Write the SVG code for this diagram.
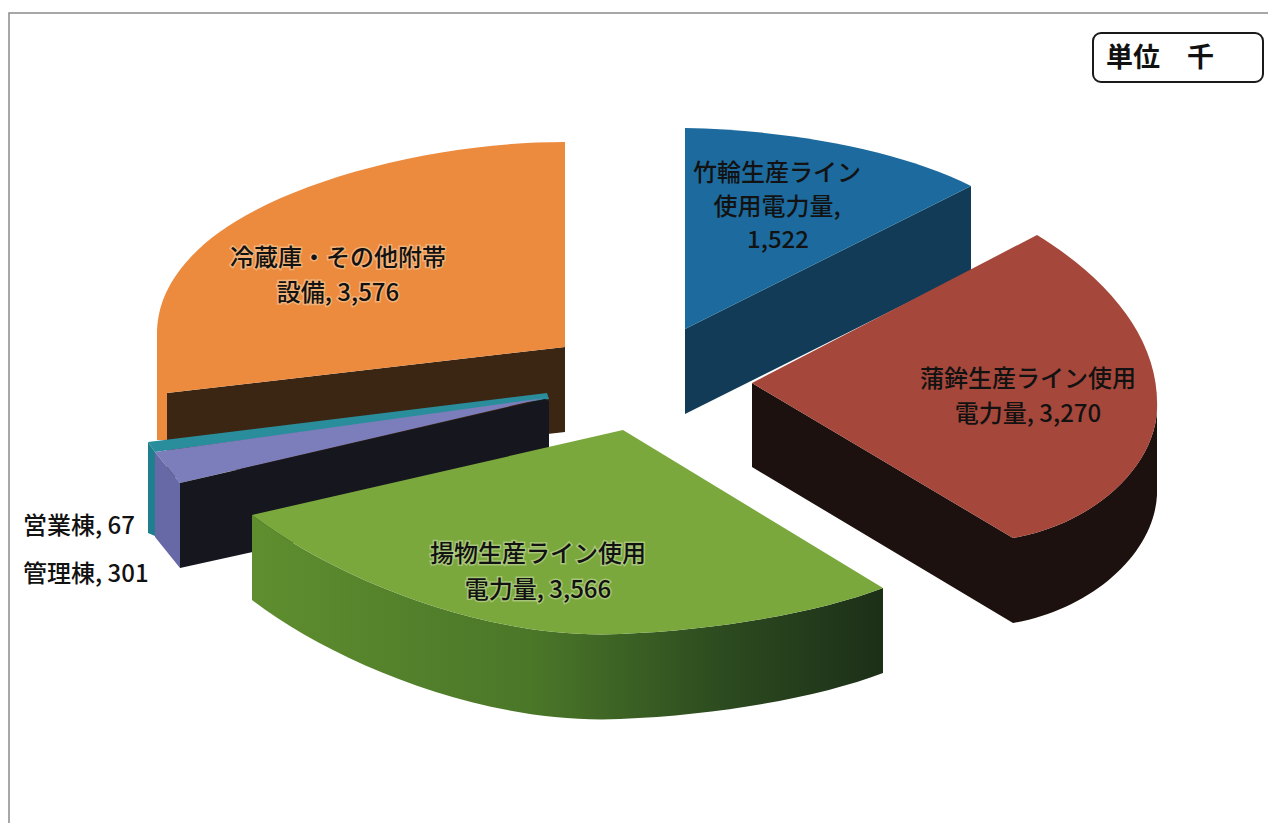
<svg xmlns="http://www.w3.org/2000/svg" width="1268" height="823" viewBox="0 0 1268 823">
<defs>
<style>
.lbl{font-family:"Noto Sans CJK JP","Noto Sans",sans-serif;font-size:24px;font-weight:500;fill:#121212;}
.mid{text-anchor:middle;}
.glow{stroke:rgba(255,255,230,0.35);stroke-width:3px;paint-order:stroke;}
</style>
<linearGradient id="greenSide" x1="252" y1="0" x2="883" y2="0" gradientUnits="userSpaceOnUse">
<stop offset="0" stop-color="#5f8e2f"/>
<stop offset="0.45" stop-color="#4a7628"/>
<stop offset="0.75" stop-color="#2c4a1f"/>
<stop offset="1" stop-color="#1c2f18"/>
</linearGradient>
</defs>
<rect x="0" y="0" width="1268" height="823" fill="#ffffff"/>
<g id="frame" fill="none" stroke="#8a8a8a" stroke-width="1.5">
<path d="M9,823 L9,13 L1268,13"/>
</g>
<g id="unit">
<rect x="1093" y="33" width="170" height="49" rx="8" ry="8" fill="#ffffff" stroke="#1a1a1a" stroke-width="2"/>
<text x="1106" y="67" font-family="'Noto Sans CJK JP','Noto Sans',sans-serif" font-size="27" font-weight="bold" fill="#111">単位　千</text>
</g>
<g id="slice-reizouko">
<path d="M167,393 L565,347 L565,432 L167,478 Z" fill="#3b2513"/>
<path d="M565,142 C420,142 250,190 190,258 C165,285 157,310 157,335 L157,440 L167,440 L167,393 L565,347 Z" fill="#ec8a3e"/>
<text class="lbl mid glow" x="338" y="266">冷蔵庫・その他附帯</text>
<text class="lbl mid glow" x="338" y="301">設備, 3,576</text>
</g>
<g id="slice-eigyou">
<path d="M148,442 L547,393 L549,399 L155,452 Z" fill="#2a8d9c"/>
<path d="M148,442 L155,452 L155,536 L148,533 Z" fill="#1f7f8e"/>
<text class="lbl" x="23" y="534">営業棟, 67</text>
</g>
<g id="slice-kanri">
<path d="M155,452 L545,398 L180,483 Z" fill="#7b7eba"/>
<path d="M155,452 L180,483 L180,568 L155,537 Z" fill="#6769a6"/>
<path d="M180,483 L545,399 L549,401 L549,487 L180,568 Z" fill="#16161f"/>
<text class="lbl" x="23" y="582">管理棟, 301</text>
</g>
<g id="slice-agemono">
<path d="M252,515 C330,575 480,640 620,634 C720,630 820,612 883,588 L883,673 C820,697 720,715 620,719 C480,725 330,660 252,600 Z" fill="url(#greenSide)"/>
<path d="M623,430 L252,515 C330,575 480,640 620,634 C720,630 820,612 883,588 Z" fill="#7aa83d"/>
<text class="lbl mid glow" x="538" y="562">揚物生産ライン使用</text>
<text class="lbl mid glow" x="538" y="598">電力量, 3,566</text>
</g>
<g id="slice-chikuwa">
<path d="M685,329 L971,186 L971,271 L685,414 Z" fill="#123b57"/>
<path d="M685,128 C790,130 900,150 971,186 L685,329 Z" fill="#1d6b9e"/>
<text class="lbl mid" x="777" y="181">竹輪生産ライン</text>
<text class="lbl mid" x="777" y="215">使用電力量,</text>
<text class="lbl mid" x="778" y="248">1,522</text>
</g>
<g id="slice-kamaboko">
<path d="M752,383 L752,467 L1013,623 C1090,610 1154,555 1157,495 L1157,410 C1154,470 1090,525 1013,538 Z" fill="#1c110e"/>
<path d="M752,383 L1037,235 C1110,280 1160,340 1157,410 C1154,470 1090,525 1013,538 Z" fill="#a6473b"/>
<text class="lbl mid" x="1028" y="387">蒲鉾生産ライン使用</text>
<text class="lbl mid" x="1028" y="422">電力量, 3,270</text>
</g>
<g id="connectors"></g>
</svg>
